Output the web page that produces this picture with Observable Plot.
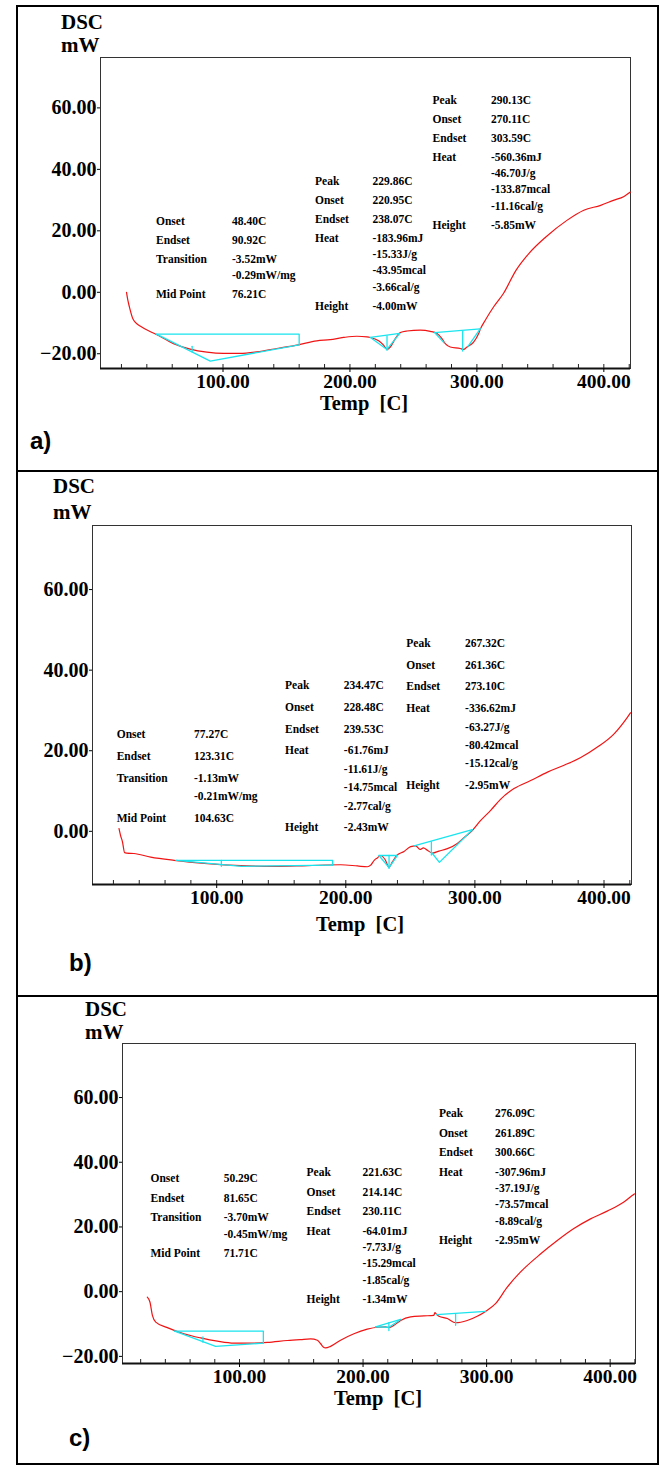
<!DOCTYPE html>
<html><head><meta charset="utf-8">
<script src="https://cdn.jsdelivr.net/npm/d3@7"></script>
<script src="https://cdn.jsdelivr.net/npm/@observablehq/plot@0.6"></script>
<style>
body{margin:0;background:#fff;}
#page{position:relative;width:661px;height:1466px;overflow:hidden;font-family:'Liberation Serif','Times New Roman',serif;}
.panel{position:absolute;left:0;width:661px;}
.panel svg{position:absolute;left:0;top:0;}
.t{position:absolute;white-space:pre;font-weight:bold;color:#000;}
.ann{font-size:11.5px;line-height:11.5px;}
.big{font-size:21px;line-height:21px;}
.xt{font-size:20.5px;line-height:14px;}
.tag{font-family:'Liberation Sans',Arial,sans-serif;font-size:24px;line-height:24px;}
.rule{position:absolute;background:#000;}
</style></head><body><div id="page"></div>
<script>
// ---------- tick values ----------
const xTicks = [100, 200, 300, 400];
const minorTicks = [20, 40, 60, 80, 100, 120, 140, 160, 180, 200, 220, 240, 260, 280, 300, 320, 340, 360, 380, 400, 420];
const yTicksA = [-20, 0, 20, 40, 60];
const yTicksB = [0, 20, 40, 60];
const yTicksC = [-20, 0, 20, 40, 60];
const axisTitleY = ["DSC", "mW"];
const axisTitleX = "Temp  [C]";
const panelTags = ["a)", "b)", "c)"];

// ---------- DSC curves [Temp C, mW] ----------
const curveA = [[24,0],[25,-2.5],[26.3,-4.8],[29,-8.6],[31,-9.8],[34.7,-11],[47.9,-13.8],[61,-16.7],[74.1,-18.5],[87.3,-19.5],[100.4,-19.9],[113.5,-19.9],[126.7,-19.4],[142.4,-18.3],[159.2,-17.1],[173.9,-15.8],[184.4,-15.4],[194.9,-14.7],[205.5,-14.3],[213.4,-14.5],[216.1,-14.7],[222.6,-15.8],[226.5,-17.2],[229.2,-18.6],[231.8,-17.8],[235.7,-15.1],[239.7,-13.1],[244.9,-12.6],[255.4,-12.3],[263.3,-12.7],[268.6,-13.4],[272.5,-15.1],[275.1,-16.7],[279,-17.8],[286.9,-18.3],[289.5,-18.6],[292.2,-17.8],[297.4,-16.2],[301.4,-13.4],[302.6,-12.1],[306.6,-9.1],[313.1,-4.8],[320.9,-0.4],[330.9,7.2],[340.9,12.6],[354.3,18],[370.9,23.4],[384.2,26.7],[397.5,28.3],[407.5,29.9],[415.9,31.2],[420.9,32.6]];
const curveB = [[24.3,0.7],[25.5,-1],[27,-2.6],[28.7,-5.3],[30.5,-5.4],[35.9,-5.5],[48.9,-6.4],[67,-7.2],[92.8,-8],[118.6,-8.5],[144.4,-8.7],[170.3,-8.5],[196.1,-8.3],[209,-8.6],[216.7,-8.8],[219.3,-8.4],[222,-7.2],[224.5,-6.6],[227.1,-6.0],[230.4,-7.0],[233.5,-8.9],[236.1,-7.6],[239.4,-6.0],[245.1,-5.0],[250.3,-3.8],[254.2,-3.6],[257.5,-4.5],[260.1,-4.1],[263.2,-4.7],[267.1,-5.4],[272.2,-4.9],[278.7,-4.3],[286.4,-3.0],[291.5,-1.6],[298,0.2],[304.5,2.7],[312.2,5.2],[320,8.0],[330.3,10.6],[343.2,12.6],[356.2,14.7],[369.1,16.4],[382,18.3],[394.9,20.9],[407.8,24.2],[418.1,28.3],[420.5,29.4]];
const curveC = [[25.4,-1.7],[27.5,-3.2],[29.5,-7.3],[32.2,-9.4],[41.6,-11.1],[55,-13],[68.6,-14.3],[82.1,-15.3],[95.5,-15.9],[109,-15.9],[122.5,-15.7],[138.7,-15.1],[149.5,-14.8],[157.6,-14.6],[163,-15],[165.7,-16.1],[167.8,-17.1],[169.7,-17.4],[173.7,-16.9],[181.8,-15],[192.6,-13],[203.4,-11.6],[211.5,-11],[218.2,-10.9],[220.9,-11.1],[225,-10.4],[230.4,-8.9],[238.5,-7.8],[249.2,-7.5],[257.3,-7.3],[258.1,-6.5],[259.5,-7],[261.4,-7.6],[268.2,-8.3],[274.9,-9.6],[284.3,-8.9],[292.4,-7.6],[299.1,-6.1],[307.2,-3.7],[316.7,1.4],[327.5,6.1],[343.8,11.7],[357.2,15.8],[370.6,19.5],[384.1,22.5],[397.6,24.9],[411.1,27.7],[417.8,29.7],[419.6,30.2]];

// ---------- analysis construction lines (polylines of [Temp, mW]) ----------
const baseA = [
  [[47.6,-13.6],[160,-13.6],[160,-17.1]],
  [[47.6,-13.6],[90,-22.4],[160,-17.1]],
  [[75.7,-17.6],[75.7,-19.4]],
  [[216.1,-14.7],[239.2,-13.4]],
  [[216.1,-14.7],[229.2,-18.6],[239.2,-13.4]],
  [[229.2,-14.2],[229.2,-18.9]],
  [[266.7,-13.1],[302.6,-11.9]],
  [[266.7,-13.1],[274,-16.4]],
  [[288.8,-12.7],[288.8,-19.1]],
  [[293,-17.6],[302.6,-11.9]]
];
const baseB = [
  [[68.6,-7.2],[189.8,-7.2],[189.8,-8.4]],
  [[68.6,-7.2],[119.3,-8.7],[189.8,-8.4]],
  [[103.6,-7.2],[103.6,-8.7]],
  [[225.7,-6.0],[240,-6.0]],
  [[225.7,-6.0],[233.5,-9.0],[240,-6.0]],
  [[233.5,-6.0],[233.5,-9.2]],
  [[252.9,-3.6],[298,0.4]],
  [[266.3,-2.6],[266.3,-5.9]],
  [[266.3,-5.2],[272.5,-7.7],[298,0.4]]
];
const baseC = [
  [[47.5,-12.2],[119.3,-12.2],[119.3,-15.9]],
  [[47.5,-12.2],[80.7,-16.9],[119.3,-15.9]],
  [[70.4,-14],[70.4,-15.6]],
  [[210.1,-10.9],[230.4,-8.6]],
  [[210.1,-10.9],[220.9,-11.0],[230.4,-8.6]],
  [[220.9,-9.6],[220.9,-12]],
  [[259.5,-7.1],[299.1,-6.1]],
  [[274.9,-6.8],[274.9,-10.4]]
];

// ---------- annotation texts ----------
const annA1 = [["Onset","48.40C"],["Endset","90.92C"],["Transition","-3.52mW"],["","-0.29mW/mg"],["Mid Point","76.21C"]];
const annA2 = [["Peak","229.86C"],["Onset","220.95C"],["Endset","238.07C"],["Heat","-183.96mJ"],["","-15.33J/g"],["","-43.95mcal"],["","-3.66cal/g"],["Height","-4.00mW"]];
const annA3 = [["Peak","290.13C"],["Onset","270.11C"],["Endset","303.59C"],["Heat","-560.36mJ"],["","-46.70J/g"],["","-133.87mcal"],["","-11.16cal/g"],["Height","-5.85mW"]];
const annB1 = [["Onset","77.27C"],["Endset","123.31C"],["Transition","-1.13mW"],["","-0.21mW/mg"],["Mid Point","104.63C"]];
const annB2 = [["Peak","234.47C"],["Onset","228.48C"],["Endset","239.53C"],["Heat","-61.76mJ"],["","-11.61J/g"],["","-14.75mcal"],["","-2.77cal/g"],["Height","-2.43mW"]];
const annB3 = [["Peak","267.32C"],["Onset","261.36C"],["Endset","273.10C"],["Heat","-336.62mJ"],["","-63.27J/g"],["","-80.42mcal"],["","-15.12cal/g"],["Height","-2.95mW"]];
const annC1 = [["Onset","50.29C"],["Endset","81.65C"],["Transition","-3.70mW"],["","-0.45mW/mg"],["Mid Point","71.71C"]];
const annC2 = [["Peak","221.63C"],["Onset","214.14C"],["Endset","230.11C"],["Heat","-64.01mJ"],["","-7.73J/g"],["","-15.29mcal"],["","-1.85cal/g"],["Height","-1.34mW"]];
const annC3 = [["Peak","276.09C"],["Onset","261.89C"],["Endset","300.66C"],["Heat","-307.96mJ"],["","-37.19J/g"],["","-73.57mcal"],["","-8.89cal/g"],["Height","-2.95mW"]];

// ---------- layout ----------
const RED = "#f01414", CYAN = "#1ae4ee";
const fmt = d3.format(".2f");
const panels = [
  {tag: panelTags[0], top: 0, h: 471, m: [57, 31, 103, 100], xDom: [3.5, 421], yDom: [-24.8, 76.4], yTicks: yTicksA,
   curve: curveA, base: baseA, dsc: [61, 12, 35], temp: [364, 396], tagPos: [30, 429], L: 19, C: 16.2,
   blocks: [[annA1, 156, 232, 222], [annA2, 315, 372.5, 182], [annA3, 432.5, 491, 101]]},
  {tag: panelTags[1], top: 471, h: 525, m: [54, 30, 112, 92], xDom: [3.8, 421.3], yDom: [-13.2, 75.9], yTicks: yTicksB,
   curve: curveB, base: baseB, dsc: [53, 5, 31], temp: [360, 446], tagPos: [69, 480], L: 21.8, C: 18.4,
   blocks: [[annB1, 116.7, 194, 735], [annB2, 285, 343.8, 686], [annB3, 406.3, 465.1, 643.7]]},
  {tag: panelTags[2], top: 996, h: 470, m: [47, 26, 103, 122], xDom: [5.3, 420.5], yDom: [-22.2, 76.7], yTicks: yTicksC,
   curve: curveC, base: baseC, dsc: [85, 3, 26], temp: [378, 395], tagPos: [69, 430], L: 19.4, C: 16.4,
   blocks: [[annC1, 150.5, 223.7, 1179.3], [annC2, 306.6, 362.4, 1173.3], [annC3, 438.9, 495.1, 1114.3]]}
];

const page = document.getElementById("page");
function addText(parent, cls, txt, left, top, center) {
  const d = document.createElement("div");
  d.className = "t " + cls;
  d.textContent = txt;
  d.style.left = left + "px";
  d.style.top = top + "px";
  if (center) d.style.transform = "translateX(-50%)";
  parent.appendChild(d);
}

for (const p of panels) {
  const box = document.createElement("div");
  box.className = "panel";
  box.style.top = p.top + "px";
  box.style.height = p.h + "px";
  page.appendChild(box);

  const curveRows = p.curve.map(([T, mW]) => ({T, mW}));
  const baseRows = p.base.flatMap((seg, i) => seg.map(([T, mW]) => ({T, mW, seg: i})));
  const innerH = p.h - p.m[0] - p.m[2];

  const svg = Plot.plot({
    width: 661, height: p.h,
    marginTop: p.m[0], marginRight: p.m[1], marginBottom: p.m[2], marginLeft: p.m[3],
    x: {domain: p.xDom},
    y: {domain: p.yDom},
    style: {background: "transparent", fontFamily: "'Liberation Serif','Times New Roman',serif", color: "#000", overflow: "visible"},
    marks: [
      Plot.frame({stroke: "#333", strokeWidth: 1}),
      Plot.ruleY([p.yDom[0]], {stroke: "#111", strokeWidth: 2}),
      Plot.tickX(minorTicks, {x: d => d, insetTop: innerH - 4, stroke: "#222"}),
      Plot.axisX({ticks: xTicks, tickSize: 4, tickPadding: 2, tickFormat: fmt, fontSize: 19.5, fontWeight: "bold", label: null}),
      Plot.axisY({ticks: p.yTicks, tickSize: 3, tickPadding: 1, tickFormat: fmt, fontSize: 20, fontWeight: "bold", label: null}),
      Plot.line(curveRows, {x: "T", y: "mW", stroke: RED, strokeWidth: 1.2, curve: "monotone-x"}),
      Plot.line(baseRows, {x: "T", y: "mW", z: "seg", stroke: CYAN, strokeWidth: 1.3})
    ]
  });
  box.appendChild(svg);

  addText(box, "big", axisTitleY[0], p.dsc[0], p.dsc[1]);
  addText(box, "big", axisTitleY[1], p.dsc[0], p.dsc[2]);
  addText(box, "xt", axisTitleX, p.temp[0], p.temp[1], true);
  addText(box, "tag", p.tag, p.tagPos[0], p.tagPos[1]);

  for (const [rows, lx, vx, y0] of p.blocks) {
    let y = y0;
    rows.forEach(([lab, val], i) => {
      if (i > 0) y += lab ? p.L : p.C;
      const top = y - p.top - 6;
      if (lab) addText(box, "ann", lab, lx, top);
      addText(box, "ann", val, vx, top);
    });
  }
}

// outer frame and panel dividers
const rules = [[16, 5, 643, 2], [16, 5, 2, 1460], [657, 5, 2, 1460], [16, 1463, 643, 2], [16, 470, 643, 2], [16, 995, 643, 2]];
for (const [l, t, w, h] of rules) {
  const r = document.createElement("div");
  r.className = "rule";
  Object.assign(r.style, {left: l + "px", top: t + "px", width: w + "px", height: h + "px"});
  page.appendChild(r);
}
</script></body></html>
